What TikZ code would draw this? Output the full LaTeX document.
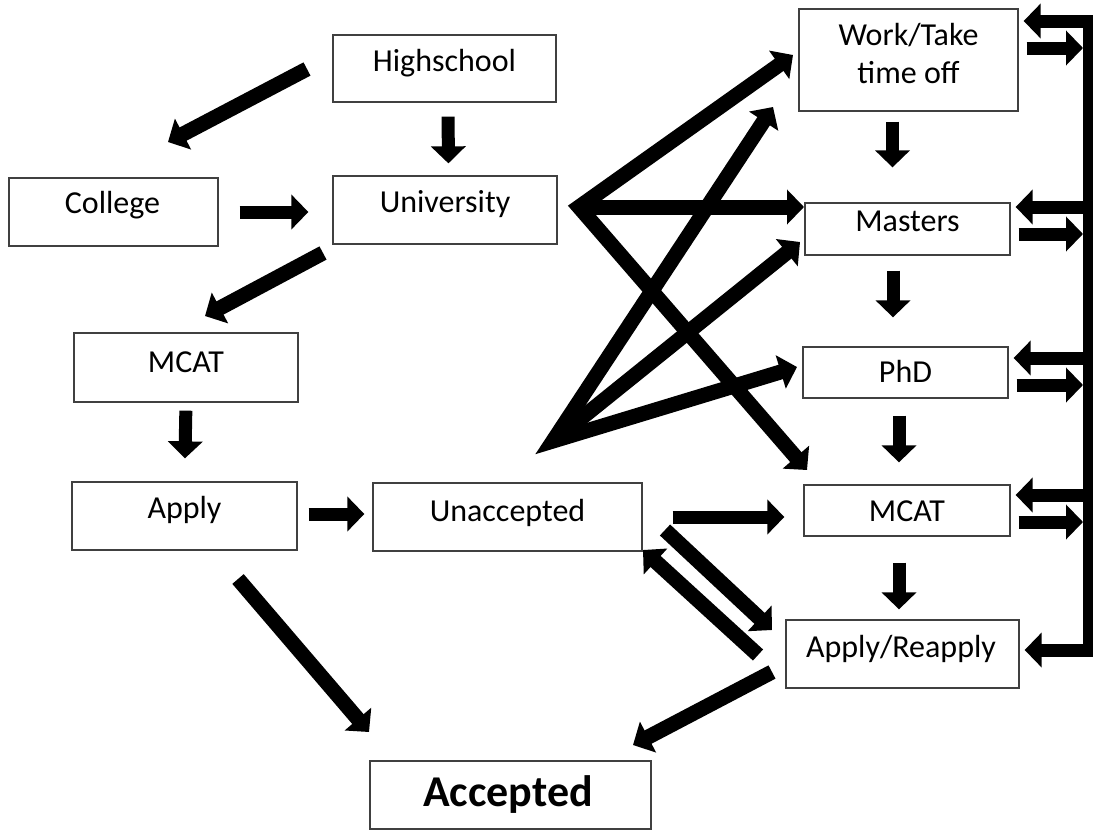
\documentclass[tikz,border=0pt]{standalone}
\usepackage{fontspec}
\setmainfont{Carlito}
\usetikzlibrary{arrows.meta}
\begin{document}
\begin{tikzpicture}[x=1pt,y=-1pt,
  box/.style={draw=black!75, line width=1.3pt, inner sep=0pt},
  lbl/.style={anchor=base, inner sep=0pt, font=\fontsize{32}{36}\selectfont},
  tipA/.tip={Triangle[width=34pt,length=17pt]},
  blk/.style={line width=13pt, -tipA},
  dia/.style={line width=15pt, -tipA},
  fan/.style={line width=15pt, line join=miter, tipA-tipA},
]
\useasboundingbox (0,0) rectangle (1094,830);

% ---------- boxes ----------
\node[box, minimum width=223pt, minimum height=67pt] (hs) at (444.5,68.5) {};
\node[lbl] (hs-t) at (444.5,71) {Highschool};
\node[box, minimum width=209pt, minimum height=68pt] (col) at (113.5,212) {};
\node[lbl] (col-t) at (112.5,213) {College};
\node[box, minimum width=224pt, minimum height=68pt] (uni) at (445,210) {};
\node[lbl] (uni-t) at (445,212) {University};
\node[box, minimum width=224pt, minimum height=69pt] (mc1) at (186,367.5) {};
\node[lbl] (mc1-t) at (186,372) {MCAT};
\node[box, minimum width=225pt, minimum height=68pt] (app) at (184.5,516) {};
\node[lbl] (app-t) at (184.5,518) {Apply};
\node[box, minimum width=269pt, minimum height=68pt] (una) at (507.5,517) {};
\node[lbl] (una-t) at (507.5,521) {Unaccepted};
\node[box, minimum width=281pt, minimum height=68pt] (acc) at (510.5,795) {};
\node[lbl, font=\bfseries\fontsize{44}{48}\selectfont] (acc-t) at (508,806) {Accepted};
\node[box, minimum width=219pt, minimum height=102pt] (wrk) at (908.5,60) {};
\node[lbl] (wrk-t1) at (908.5,45) {Work/Take};
\node[lbl] (wrk-t2) at (908.5,83) {time off};
\node[box, minimum width=205pt, minimum height=52pt] (mas) at (907.5,229) {};
\node[lbl] (mas-t) at (907.5,231) {Masters};
\node[box, minimum width=205pt, minimum height=51pt] (phd) at (905.5,372.5) {};
\node[lbl] (phd-t) at (905.5,382) {PhD};
\node[box, minimum width=206pt, minimum height=51pt] (mc2) at (907,510.5) {};
\node[lbl] (mc2-t) at (907,521) {MCAT};
\node[box, minimum width=233pt, minimum height=68pt] (rea) at (902.5,654) {};
\node[lbl] (rea-t) at (901,657) {Apply/Reapply};

% ---------- arrow end points ----------
\coordinate (hsC-s) at (307,69);   \coordinate (hsC-e) at (168,142);
\coordinate (uM-s) at (323,253);   \coordinate (uM-e) at (205,316);
\coordinate (aA-s) at (238,579);   \coordinate (aA-e) at (369,732);
\coordinate (F1) at (579,207);
\coordinate (F1w) at (793,55);     \coordinate (F1m) at (804,207);
\coordinate (F1c) at (807,470);
\coordinate (F2) at (553,441);
\coordinate (F2w) at (773,107);    \coordinate (F2m) at (800,242);
\coordinate (F2p) at (797,367);
\coordinate (uR-s) at (665,530);   \coordinate (uR-e) at (772,630);
\coordinate (rU-s) at (758,655);   \coordinate (rU-e) at (643,550);
\coordinate (rA-s) at (772,672);   \coordinate (rA-e) at (633,745);
\coordinate (barT) at (1088,15);   \coordinate (barB) at (1088,657);

% ---------- straight short arrows ----------
\draw[blk, shorten <=14pt, shorten >=12pt] ([xshift=3.5pt]hs.south) -- ([xshift=3.5pt]uni.north);
\draw[blk, shorten <=21pt, shorten >=24pt] (col.east |- 0,212) -- (uni.west |- 0,212);
\draw[blk, shorten <=8pt, shorten >=23pt] (mc1.south) -- (app.north);
\draw[blk, shorten <=11pt, shorten >=8pt] (app.east |- 0,514) -- (una.west |- 0,514);
\draw[blk, shorten <=30pt, shorten >=19pt] (una.east |- 0,517) -- (mc2.west |- 0,517);
\draw[blk, shorten <=10pt, shorten >=35pt] ([xshift=-16pt]wrk.south) -- ([xshift=-15pt]mas.north);
\draw[blk, shorten <=15pt, shorten >=29pt] ([xshift=-14.5pt]mas.south) -- ([xshift=-12.5pt]phd.north);
\draw[blk, shorten <=17pt, shorten >=22pt] ([xshift=-6.5pt]phd.south) -- ([xshift=-8pt]mc2.north);
\draw[blk, shorten <=26pt, shorten >=10pt] ([xshift=-8pt]mc2.south) -- ([xshift=-3.5pt]rea.north);

% ---------- diagonal arrows ----------
\draw[dia] (hsC-s) -- (hsC-e);
\draw[dia] (uM-s) -- (uM-e);
\draw[dia] (aA-s) -- (aA-e);
\draw[dia] (uR-s) -- (uR-e);
\draw[dia] (rU-s) -- (rU-e);
\draw[dia] (rA-s) -- (rA-e);

% ---------- fans ----------
\draw[fan] (F1w) -- (F1) -- (F1c);
\draw[dia] (F1) -- (F1m);
\draw[fan] (F2w) -- (F2) -- (F2p);
\draw[dia] (F2) -- (F2m);

% ---------- right bar ----------
\draw[line width=10pt] (barT) -- (barB);
\foreach \y/\n in {21/wrk,207/mas,358/phd,495/mc2,650/rea}{
  \draw[blk] (barT |- 0,\y) ++(-5,0) -- ([xshift=5pt]\n.east |- 0,\y);
}
\foreach \y/\n in {48/wrk,234/mas,385/phd,522/mc2}{
  \draw[blk] ([xshift=8pt]\n.east |- 0,\y) -- ([xshift=-5pt]barT |- 0,\y);
}
\end{tikzpicture}
\end{document}
